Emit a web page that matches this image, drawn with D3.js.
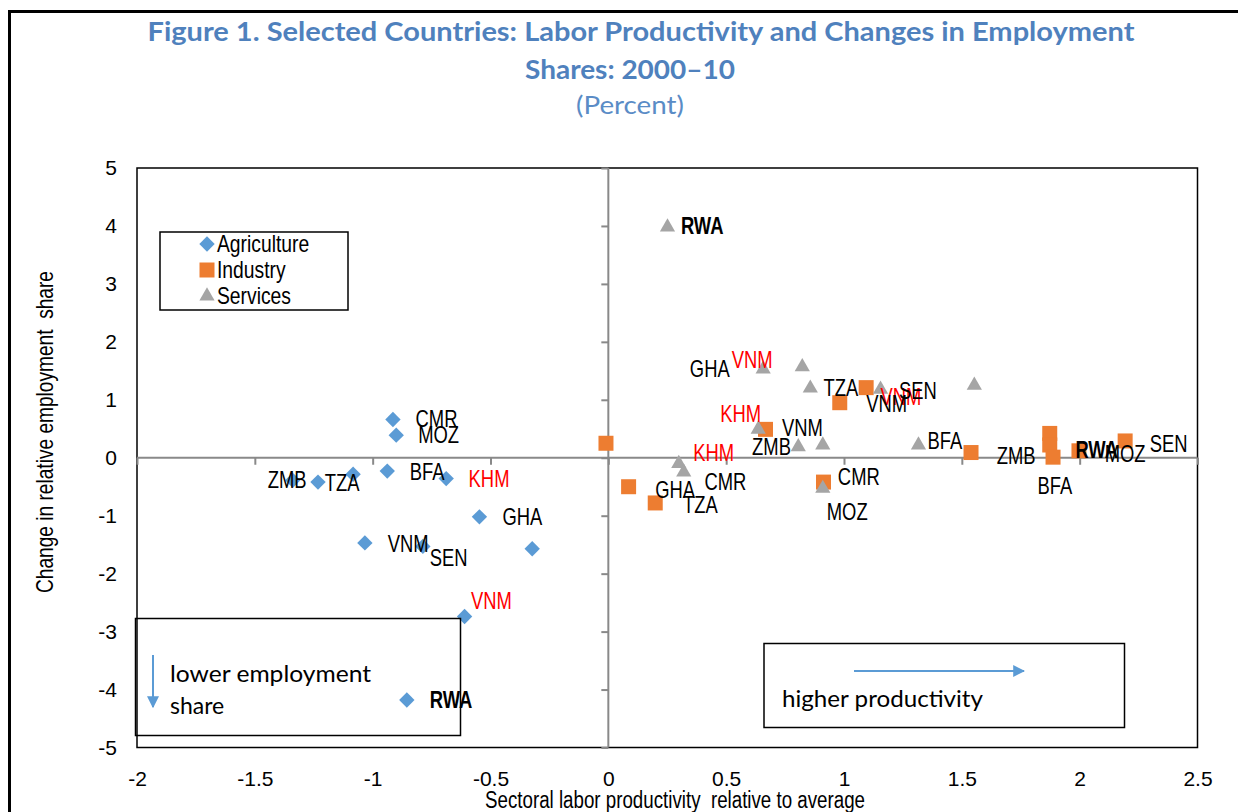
<!DOCTYPE html>
<html>
<head>
<meta charset="utf-8">
<script src="https://cdn.jsdelivr.net/npm/d3@7"></script>
<style>
  body { margin: 0; background: #fff; }
  text { white-space: pre; }
</style>
</head>
<body>
<script>
// sectoral productivity (x) vs change in relative employment share (y)
const agriculture = [
  [-0.914, 0.66], [-0.90, 0.39], [-0.938, -0.23], [-0.688, -0.36],
  [-1.339, -0.39], [-1.232, -0.42], [-1.083, -0.285], [-0.547, -1.02],
  [-1.033, -1.47], [-0.787, -1.53], [-0.323, -1.57], [-0.61, -2.74],
  [-0.855, -4.18]
];
const industry = [
  [-0.01, 0.25], [0.086, -0.50], [0.199, -0.78], [0.667, 0.49],
  [0.913, -0.42], [0.982, 0.95], [1.094, 1.21], [1.539, 0.09],
  [1.873, 0.42], [1.873, 0.22], [1.887, 0.01], [1.997, 0.12],
  [2.193, 0.29]
];
const services = [
  [0.251, 3.98], [0.657, 1.53], [0.823, 1.57], [0.857, 1.20],
  [1.155, 1.18], [1.553, 1.25], [0.636, 0.49], [0.806, 0.19],
  [0.91, 0.22], [1.316, 0.22], [0.299, -0.10], [0.32, -0.25],
  [0.91, -0.53]
];

// country labels, anchored in data units: [code, x, y, group]
const labels = [
  ["CMR", -0.818, 0.528, "peer"], ["MOZ", -0.807, 0.251, "peer"],
  ["BFA", -0.843, -0.389, "peer"], ["KHM", -0.593, -0.510, "asia"],
  ["ZMB", -1.445, -0.519, "peer"], ["TZA", -1.203, -0.571, "peer"],
  ["GHA", -0.449, -1.156, "peer"], ["VNM", -0.936, -1.626, "peer"],
  ["SEN", -0.758, -1.860, "peer"], ["VNM", -0.583, -2.609, "asia"],
  ["RWA", -0.758, -4.317, "focus"],
  ["RWA", 0.308, 3.867, "focus"], ["GHA", 0.346, 1.398, "peer"],
  ["VNM", 0.524, 1.543, "asia"], ["TZA", 0.913, 1.064, "peer"],
  ["VNM", 1.155, 0.908, "asia"], ["SEN", 1.233, 1.007, "peer"],
  ["VNM", 1.094, 0.792, "peer"], ["KHM", 0.475, 0.619, "asia"],
  ["VNM", 0.737, 0.372, "peer"], ["ZMB", 0.610, 0.043, "peer"],
  ["BFA", 1.354, 0.159, "peer"], ["KHM", 0.360, -0.055, "asia"],
  ["CMR", 0.408, -0.550, "peer"], ["GHA", 0.199, -0.689, "peer"],
  ["TZA", 0.317, -0.955, "peer"], ["CMR", 0.974, -0.476, "peer"],
  ["MOZ", 0.927, -1.081, "peer"], ["ZMB", 1.648, -0.100, "peer"],
  ["RWA", 1.982, 0.003, "focus"], ["MOZ", 2.106, -0.073, "peer"],
  ["SEN", 2.297, 0.100, "peer"], ["BFA", 1.821, -0.631, "peer"]
];

const xTicks = [-2, -1.5, -1, -0.5, 0, 0.5, 1, 1.5, 2, 2.5];
const yTicks = [-5, -4, -3, -2, -1, 0, 1, 2, 3, 4, 5];
const seriesNames = ["Agriculture", "Industry", "Services"];

const width = 1238, height = 812;
const sans = "'Liberation Sans', Arial, sans-serif";
const calibri = "Lato, 'Open Sans', sans-serif";
const titleBlue = "#4f81bd";
const squeeze = 0.8; // chart text is set in a narrow face

const x = d3.scaleLinear().domain([-2, 2.5]).range([137, 1197.5]);
const y = d3.scaleLinear().domain([-5, 5]).range([747.5, 168]);

const color = d3.scaleOrdinal().domain(seriesNames).range(["#5b9bd5", "#ed7d31", "#a5a5a5"]);
const shape = {
  Agriculture: {type: d3.symbolSquare, size: 118, rotate: 45},
  Industry: {type: d3.symbolSquare, size: 225, rotate: 0},
  Services: {type: d3.symbolTriangle, size: 100, rotate: 0}
};

const svg = d3.select("body").append("svg")
    .attr("width", width)
    .attr("height", height);

// outer border of the figure
svg.append("rect")
    .attr("x", 9.5).attr("y", 11.5)
    .attr("width", width + 20).attr("height", height + 20)
    .attr("fill", "none").attr("stroke", "#000").attr("stroke-width", 3);

// title
const title = svg.append("g").attr("fill", titleBlue).attr("font-family", calibri).attr("text-anchor", "middle");
title.append("text")
    .attr("x", 641).attr("y", 41)
    .attr("font-size", 26).attr("font-weight", 700)
    .attr("textLength", 987).attr("lengthAdjust", "spacingAndGlyphs")
    .text("Figure 1. Selected Countries: Labor Productivity and Changes in Employment");
title.append("text")
    .attr("x", 630).attr("y", 79)
    .attr("font-size", 26).attr("font-weight", 700)
    .attr("textLength", 210).attr("lengthAdjust", "spacingAndGlyphs")
    .text("Shares: 2000–10");
title.append("text")
    .attr("x", 630).attr("y", 114)
    .attr("font-size", 25)
    .attr("fill", "#5a8cc6")
    .attr("textLength", 108).attr("lengthAdjust", "spacingAndGlyphs")
    .text("(Percent)");

// plot frame
svg.append("rect")
    .attr("x", x(-2)).attr("y", y(5))
    .attr("width", x(2.5) - x(-2)).attr("height", y(-5) - y(5))
    .attr("fill", "none").attr("stroke", "#000").attr("stroke-width", 1.5);

// tick labels on the frame
svg.append("g")
    .attr("transform", `translate(${x(-2)},0)`)
    .call(d3.axisLeft(y).tickValues(yTicks).tickSize(0).tickPadding(20).tickFormat(d => String(d)))
    .call(g => g.select(".domain").remove())
    .call(g => g.selectAll("text").attr("font-family", sans).attr("font-size", 21).attr("fill", "#000"));

svg.append("g")
    .attr("transform", `translate(0,${y(-5)})`)
    .call(d3.axisBottom(x).tickValues(xTicks).tickSize(0).tickPadding(24).tickFormat(d => String(d)))
    .call(g => g.select(".domain").remove())
    .call(g => g.selectAll("text").attr("font-family", sans).attr("font-size", 21).attr("fill", "#000"));

// zero axes with tick marks
const axisGrey = "#898989";
svg.append("g")
    .attr("transform", `translate(${x(0)},0)`)
    .call(d3.axisLeft(y).tickValues(yTicks).tickSize(7).tickFormat(""))
    .call(g => g.select(".domain").attr("stroke", axisGrey).attr("stroke-width", 2).attr("d", `M0,${y(5)}V${y(-5)}`))
    .call(g => g.selectAll(".tick line").attr("stroke", axisGrey).attr("stroke-width", 2));

svg.append("g")
    .attr("transform", `translate(0,${y(0)})`)
    .call(d3.axisBottom(x).tickValues(xTicks).tickSize(7).tickFormat(""))
    .call(g => g.select(".domain").attr("stroke", axisGrey).attr("stroke-width", 2).attr("d", `M${x(-2)},0H${x(2.5)}`))
    .call(g => g.selectAll(".tick line").attr("stroke", axisGrey).attr("stroke-width", 2));

// axis titles
svg.append("text")
    .attr("transform", "translate(53,432) rotate(-90)")
    .attr("text-anchor", "middle")
    .attr("font-family", sans).attr("font-size", 24)
    .attr("textLength", 322).attr("lengthAdjust", "spacingAndGlyphs")
    .text("Change in relative employment  share");

svg.append("text")
    .attr("x", 675).attr("y", 808)
    .attr("text-anchor", "middle")
    .attr("font-family", sans).attr("font-size", 23)
    .attr("textLength", 380).attr("lengthAdjust", "spacingAndGlyphs")
    .text("Sectoral labor productivity  relative to average");

// markers
const series = [
  {name: "Agriculture", values: agriculture},
  {name: "Industry", values: industry},
  {name: "Services", values: services}
];

const symbolPath = name => d3.symbol().type(shape[name].type).size(shape[name].size)();

svg.append("g")
  .selectAll("g")
  .data(series)
  .join("g")
    .attr("fill", d => color(d.name))
  .selectAll("path")
  .data(d => d.values.map(v => ({name: d.name, v})))
  .join("path")
    .attr("d", d => symbolPath(d.name))
    .attr("transform", d => `translate(${x(d.v[0])},${y(d.v[1])}) rotate(${shape[d.name].rotate})`);

// country labels
svg.append("g")
    .attr("font-family", sans).attr("font-size", 23)
  .selectAll("text")
  .data(labels)
  .join("text")
    .attr("transform", d => `translate(${x(d[1])},${y(d[2])}) scale(${squeeze},1)`)
    .attr("fill", d => d[3] === "asia" ? "#ff0000" : "#000")
    .attr("font-weight", d => d[3] === "focus" ? 700 : 400)
    .text(d => d[0]);

// legend
const legend = svg.append("g").attr("transform", "translate(160,232)");
legend.append("rect")
    .attr("width", 188).attr("height", 78)
    .attr("fill", "#fff").attr("stroke", "#000").attr("stroke-width", 1.5);
legend.selectAll("g")
  .data(seriesNames)
  .join("g")
    .attr("transform", (d, i) => `translate(47,${12 + i * 26})`)
    .call(g => g.append("path")
        .attr("d", d => symbolPath(d))
        .attr("transform", d => `rotate(${shape[d].rotate})`)
        .attr("fill", d => color(d)))
    .call(g => g.append("text")
        .attr("transform", `translate(10,8) scale(0.84,1)`)
        .attr("font-family", sans).attr("font-size", 23)
        .text(d => d));

// annotation boxes
const arrowBlue = "#5b9bd5";
svg.append("defs").append("marker")
    .attr("id", "head")
    .attr("viewBox", "0 0 10 10")
    .attr("refX", 9).attr("refY", 5)
    .attr("markerWidth", 6).attr("markerHeight", 6)
    .attr("markerUnits", "strokeWidth")
    .attr("orient", "auto")
  .append("path")
    .attr("d", "M0,0L10,5L0,10Z")
    .attr("fill", arrowBlue);

svg.append("rect")
    .attr("x", 135.5).attr("y", 618.5).attr("width", 325).attr("height", 117)
    .attr("fill", "none").attr("stroke", "#000").attr("stroke-width", 1.5);
svg.append("line")
    .attr("x1", 153).attr("y1", 655).attr("x2", 153).attr("y2", 707)
    .attr("stroke", arrowBlue).attr("stroke-width", 2)
    .attr("marker-end", "url(#head)");
svg.append("text")
    .attr("x", 170).attr("y", 682)
    .attr("font-family", calibri).attr("font-size", 23)
    .attr("textLength", 201).attr("lengthAdjust", "spacingAndGlyphs")
    .text("lower employment");
svg.append("text")
    .attr("x", 170).attr("y", 714)
    .attr("font-family", calibri).attr("font-size", 23)
    .text("share");

svg.append("rect")
    .attr("x", 764).attr("y", 643.5).attr("width", 360.5).attr("height", 84)
    .attr("fill", "none").attr("stroke", "#000").attr("stroke-width", 1.5);
svg.append("line")
    .attr("x1", 854).attr("y1", 671).attr("x2", 1024).attr("y2", 671)
    .attr("stroke", arrowBlue).attr("stroke-width", 2)
    .attr("marker-end", "url(#head)");
svg.append("text")
    .attr("x", 782).attr("y", 707)
    .attr("font-family", calibri).attr("font-size", 23)
    .attr("textLength", 201).attr("lengthAdjust", "spacingAndGlyphs")
    .text("higher productivity");
</script>
</body>
</html>
